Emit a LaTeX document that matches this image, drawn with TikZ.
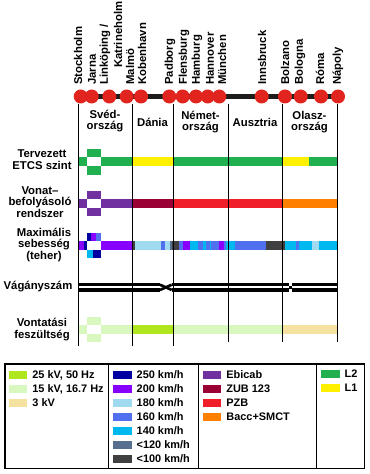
\documentclass[tikz,border=0pt]{standalone}
\usepackage{fontspec}
\setmainfont{Liberation Sans}
\usepackage{tikz}
\usetikzlibrary{positioning}

\definecolor{trackblack}{RGB}{30,28,26}
\definecolor{dotred}{RGB}{226,36,30}
\definecolor{ac25}{RGB}{176,230,30}
\definecolor{ac15}{RGB}{216,248,192}
\definecolor{dc3}{RGB}{246,226,160}
\definecolor{v250}{RGB}{0,0,160}
\definecolor{v200}{RGB}{136,0,255}
\definecolor{v180}{RGB}{160,218,240}
\definecolor{v160}{RGB}{80,112,240}
\definecolor{v140}{RGB}{0,184,240}
\definecolor{v120}{RGB}{88,112,144}
\definecolor{v100}{RGB}{64,64,64}
\definecolor{ebicab}{RGB}{112,48,160}
\definecolor{zub}{RGB}{155,0,52}
\definecolor{pzb}{RGB}{240,30,40}
\definecolor{bacc}{RGB}{255,128,0}
\definecolor{etcsii}{RGB}{32,176,80}
\definecolor{etcsi}{RGB}{255,240,0}

\newcommand\labfont{\fontsize{8.5}{8.8}\selectfont\bfseries}
\newcommand\legfont{\fontsize{8.2}{9}\selectfont\bfseries}

\begin{document}
\begin{tikzpicture}[x=0.75pt,y=0.75pt,yscale=-1,xscale=1,
  stop/.style={circle,fill=dotred,inner sep=0pt,minimum size=10.5pt},
  stlabel/.style={rotate=90,anchor=west,inner sep=0pt,font=\labfont},
  country/.style={align=center,inner sep=0pt,font=\labfont},
  rowlabel/.style={align=center,inner sep=0pt,font=\labfont},
  border/.style={line width=1.1pt},
  rail/.style={line width=2.55pt},
  swatch/.style={inner sep=0pt,minimum width=13.9pt,minimum height=6.4pt},
  legtext/.style={anchor=west,inner sep=0pt,font=\legfont}]
\path[use as bounding box] (0,0) rectangle (370,474);

%Station names
\node[stlabel] (lstockholm) at (78,85) {Stockholm};
\node[stlabel] (ljarna) at (92,85) {Jarna};
\node[stlabel] (llinkoping) at (105,85) {Linköping /};
\node[stlabel] (lkatrineholm) at (118,68) {Katrineholm};
\node[stlabel] (lmalmo) at (130,85) {Malmö};
\node[stlabel] (lkobenhavn) at (142,85) {Kobenhavn};
\node[stlabel] (lpadborg) at (170,85) {Padborg};
\node[stlabel] (lflensburg) at (184,85) {Flensburg};
\node[stlabel] (lhamburg) at (197,85) {Hamburg};
\node[stlabel] (lhannover) at (210,85) {Hannover};
\node[stlabel] (lmunchen) at (222,85) {München};
\node[stlabel] (linnsbruck) at (262,85) {Innsbruck};
\node[stlabel] (lbolzano) at (285,85) {Bolzano};
\node[stlabel] (lbologna) at (300,85) {Bologna};
\node[stlabel] (lroma) at (320,85) {Róma};
\node[stlabel] (lnapoly) at (338,85) {Nápoly};

%Track
\coordinate (trackw) at (78,96.5);
\coordinate (tracke) at (338,96.5);
\draw[trackblack,line width=4.3pt] (trackw) -- (tracke);

%Stations
\node[stop] (stockholm) at (80.7,96.5) {};
\node[stop] (jarna) at (91.7,96.5) {};
\node[stop] (linkoping) at (109.3,96.5) {};
\node[stop] (malmo) at (126.7,96.5) {};
\node[stop] (kobenhavn) at (141,96.5) {};
\node[stop] (padborg) at (169.3,96.5) {};
\node[stop] (flensburg) at (182.7,96.5) {};
\node[stop] (hamburg) at (196,96.5) {};
\node[stop] (hannover) at (207.7,96.5) {};
\node[stop] (munchen) at (219.3,96.5) {};
\node[stop] (innsbruck) at (261.7,96.5) {};
\node[stop] (bolzano) at (285,96.5) {};
\node[stop] (bologna) at (300.7,96.5) {};
\node[stop] (roma) at (321,96.5) {};
\node[stop] (napoly) at (338,96.5) {};

%Countries
\node[country] (svedorszag) at (105,121) {Svéd-\\ország};
\node[country] (dania) at (152.5,122) {Dánia};
\node[country] (nemetorszag) at (200.5,122) {Német-\\ország};
\node[country] (ausztria) at (255,122) {Ausztria};
\node[country] (olaszorszag) at (309.5,122) {Olasz-\\ország};

%Row labels
\node[rowlabel] (letcs) at (42,160) {Tervezett\\ETCS szint};
\node[rowlabel] (lvonat) at (40,202) {Vonat–\\befolyásoló\\rendszer};
\node[rowlabel] (lmax) at (44,245) {Maximális\\sebesség\\(teher)};
\node[rowlabel] (lvagany) at (38,287) {Vágányszám};
\node[rowlabel] (lvolt) at (42,329.5) {Vontatási\\feszültség};

%ETCS row
\fill[etcsii] (78,157) rectangle (87,166);
\fill[etcsii] (87,148.5) rectangle (101,157);
\fill[etcsii] (87,166) rectangle (101,174.5);
\fill[etcsii] (101,157) rectangle (132.5,166);
\fill[etcsi] (132.5,157) rectangle (173,166);
\fill[etcsii] (173,157) rectangle (282,166);
\fill[etcsi] (282,157) rectangle (308.5,166);
\fill[etcsii] (308.5,157) rectangle (337,166);

%Train control row
\fill[ebicab] (78,199) rectangle (87,208);
\fill[ebicab] (87,190.5) rectangle (101,199);
\fill[ebicab] (87,208) rectangle (101,215.5);
\fill[ebicab] (101,199) rectangle (132.5,208);
\fill[zub] (132.5,199) rectangle (173,208);
\fill[pzb] (173,199) rectangle (282,208);
\fill[bacc] (282,199) rectangle (337,208);

%Speed row
\fill[v250] (87,232.7) rectangle (91,241);
\fill[v200] (91,232.7) rectangle (96,241);
\fill[v160] (96,232.7) rectangle (101,241);
\fill[v140] (87,250) rectangle (92.7,257.7);
\fill[v250] (92.7,250) rectangle (101,257.7);
\fill[v200] (78,241) rectangle (84,250);
\fill[v250] (84,241) rectangle (87,250);
\fill[v200] (101,241) rectangle (132.5,250);
\fill[v100] (132.5,241) rectangle (135,250);
\fill[v180] (135,241) rectangle (161,250);
\fill[v160] (161,241) rectangle (165,250);
\fill[v180] (165,241) rectangle (169.5,250);
\fill[v120] (169.5,241) rectangle (171.5,250);
\fill[v100] (171.5,241) rectangle (178.5,250);
\fill[v160] (178.5,241) rectangle (182.7,250);
\fill[v200] (182.7,241) rectangle (190,250);
\fill[v140] (190,241) rectangle (197.7,250);
\fill[v160] (197.7,241) rectangle (202.7,250);
\fill[v140] (202.7,241) rectangle (205.5,250);
\fill[v160] (205.5,241) rectangle (209.5,250);
\fill[v140] (209.5,241) rectangle (211,250);
\fill[v160] (211,241) rectangle (219,250);
\fill[v200] (219,241) rectangle (224.3,250);
\fill[v160] (224.3,241) rectangle (226,250);
\fill[v140] (226,241) rectangle (235,250);
\fill[v160] (235,241) rectangle (266,250);
\fill[v100] (266,241) rectangle (285,250);
\fill[v140] (285,241) rectangle (295.5,250);
\fill[v160] (295.5,241) rectangle (299,250);
\fill[v140] (299,241) rectangle (312.3,250);
\fill[v180] (312.3,241) rectangle (319,250);
\fill[v140] (319,241) rectangle (337,250);

%Tracks row
\draw[rail] (78,284.7) -- (160,284.7);
\draw[rail] (78,290) -- (160,290);
\draw[line width=2pt] (160,284.7) -- (171.7,290);
\draw[line width=2pt] (160,290) -- (171.7,284.7);
\draw[rail] (171.7,284.7) -- (289,284.7);
\draw[rail] (171.7,290) -- (289,290);
\fill (289,286.2) rectangle (292.3,288.5);
\draw[rail] (292.3,284.7) -- (337,284.7);
\draw[rail] (292.3,290) -- (337,290);

%Voltage row
\fill[ac15] (78,325) rectangle (87,333.5);
\fill[ac15] (87,316.7) rectangle (101,325);
\fill[ac15] (87,333.5) rectangle (101,341.7);
\fill[ac15] (101,325) rectangle (132.5,333.5);
\fill[ac25] (132.5,325) rectangle (173,333.5);
\fill[ac15] (173,325) rectangle (282,333.5);
\fill[dc3] (282,325) rectangle (337,333.5);

%Borders
\draw[border] (78.3,104) -- (78.3,346);
\draw[border] (132.5,104) -- (132.5,346);
\draw[border] (173.3,104) -- (173.3,346);
\draw[border] (228.5,104) -- (228.5,342);
\draw[border] (282.3,104) -- (282.3,342);
\draw[border] (337.3,104) -- (337.3,342);

%Legend
\draw[border] (5,364) rectangle (364.3,468.3);
\draw[border] (108.3,364) -- (108.3,468.3);
\draw[border] (198.3,364) -- (198.3,468.3);
\draw[border] (316.7,364) -- (316.7,468.3);

\node[swatch,fill=ac25] (swac25) at (18.2,375) {};
\node[legtext,right=3.3pt of swac25] (txac25) {25 kV, 50 Hz};
\node[swatch,fill=ac15] (swac15) at (18.2,389) {};
\node[legtext,right=3.3pt of swac15] (txac15) {15 kV, 16.7 Hz};
\node[swatch,fill=dc3] (swdc3) at (18.2,403) {};
\node[legtext,right=3.3pt of swdc3] (txdc3) {3 kV};

\node[swatch,fill=v250] (sw250) at (122.5,375) {};
\node[legtext,right=3.3pt of sw250] (tx250) {250 km/h};
\node[swatch,fill=v200] (sw200) at (122.5,389) {};
\node[legtext,right=3.3pt of sw200] (tx200) {200 km/h};
\node[swatch,fill=v180] (sw180) at (122.5,403) {};
\node[legtext,right=3.3pt of sw180] (tx180) {180 km/h};
\node[swatch,fill=v160] (sw160) at (122.5,417) {};
\node[legtext,right=3.3pt of sw160] (tx160) {160 km/h};
\node[swatch,fill=v140] (sw140) at (122.5,431) {};
\node[legtext,right=3.3pt of sw140] (tx140) {140 km/h};
\node[swatch,fill=v120] (sw120) at (122.5,445) {};
\node[legtext,right=3.3pt of sw120] (tx120) {<120 km/h};
\node[swatch,fill=v100] (sw100) at (122.5,459) {};
\node[legtext,right=3.3pt of sw100] (tx100) {<100 km/h};

\node[swatch,fill=ebicab] (swebicab) at (212.2,375) {};
\node[legtext,right=3.3pt of swebicab] (txebicab) {Ebicab};
\node[swatch,fill=zub] (swzub) at (212.2,389) {};
\node[legtext,right=3.3pt of swzub] (txzub) {ZUB 123};
\node[swatch,fill=pzb] (swpzb) at (212.2,403) {};
\node[legtext,right=3.3pt of swpzb] (txpzb) {PZB};
\node[swatch,fill=bacc] (swbacc) at (212.2,417) {};
\node[legtext,right=3.3pt of swbacc] (txbacc) {Bacc+SMCT};

\node[swatch,fill=etcsii] (swlii) at (330.5,374) {};
\node[legtext,right=3.3pt of swlii] (txlii) {L2};
\node[swatch,fill=etcsi] (swli) at (330.5,388) {};
\node[legtext,right=3.3pt of swli] (txli) {L1};

\end{tikzpicture}
\end{document}
